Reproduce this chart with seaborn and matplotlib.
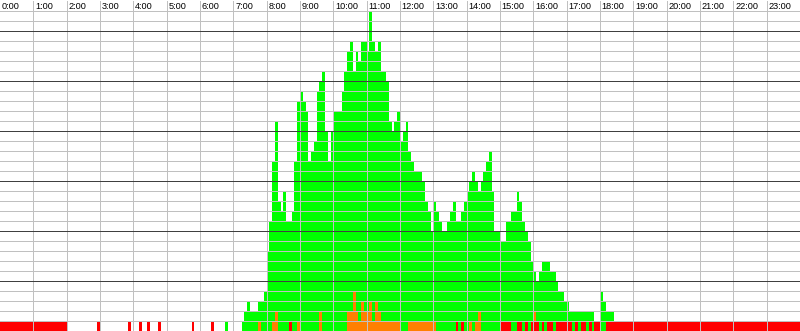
import numpy as np
import pandas as pd
import matplotlib
matplotlib.use("Agg")
import matplotlib.pyplot as plt
import seaborn as sns

# 5-minute bins, 12 per hour, 0:00 .. 23:55
bin_minutes = 5

hour_labels = ["0:00", "1:00", "2:00", "3:00", "4:00", "5:00", "6:00", "7:00",
               "8:00", "9:00", "10:00", "11:00", "12:00", "13:00", "14:00", "15:00",
               "16:00", "17:00", "18:00", "19:00", "20:00", "21:00", "22:00", "23:00"]

# total count per bin (all statuses)
total_hosts = (
    [1, 1, 1, 1, 1, 1, 1, 1, 1, 1, 1, 1] +            # 0h
    [1, 1, 1, 1, 1, 1, 1, 1, 1, 1, 1, 1] +            # 1h
    [0, 0, 0, 0, 0, 0, 0, 0, 0, 0, 0, 1] +            # 2h
    [0, 0, 0, 0, 0, 0, 0, 0, 0, 0, 1, 0] +            # 3h
    [0, 0, 1, 0, 0, 1, 0, 0, 0, 1, 0, 0] +            # 4h
    [0, 0, 0, 0, 0, 0, 0, 0, 0, 1, 0, 0] +            # 5h
    [0, 0, 0, 0, 1, 0, 0, 0, 0, 1, 0, 0] +            # 6h
    [0, 0, 0, 1, 2, 3, 2, 2, 2, 3, 3, 4] +            # 7h
    [8, 11, 17, 21, 13, 12, 14, 11, 11, 12, 17, 23] +  # 8h
    [24, 23, 22, 17, 18, 19, 24, 25, 26, 20, 17, 20] + # 9h
    [22, 22, 22, 24, 26, 28, 29, 26, 28, 27, 29, 29] + # 10h
    [28, 32, 29, 28, 29, 26, 26, 25, 21, 20, 21, 22] + # 11h
    [19, 20, 21, 18, 17, 16, 16, 16, 15, 13, 12, 10] + # 12h
    [13, 12, 11, 10, 10, 11, 12, 13, 11, 11, 12, 13] + # 13h
    [14, 15, 16, 15, 14, 15, 16, 17, 18, 14, 10, 10] + # 14h
    [9, 9, 11, 11, 12, 12, 14, 13, 11, 10, 9, 7] +     # 15h
    [6, 5, 6, 7, 7, 7, 6, 6, 5, 4, 4, 3] +             # 16h
    [3, 2, 2, 2, 2, 2, 2, 2, 2, 2, 1, 1] +             # 17h
    [4, 3, 2, 2, 2, 1, 1, 1, 1, 1, 1, 1] +             # 18h
    [1, 1, 1, 1, 1, 1, 1, 1, 1, 1, 1, 1] +            # 19h
    [1, 1, 1, 1, 1, 1, 1, 1, 1, 1, 1, 1] +            # 20h
    [1, 1, 1, 1, 1, 1, 1, 1, 1, 1, 1, 1] +            # 21h
    [1, 1, 1, 1, 1, 1, 1, 1, 1, 1, 1, 1] +            # 22h
    [1, 1, 1, 1, 1, 1, 1, 1, 1, 1, 1, 1]              # 23h
)

orange_hosts = (
    [0] * 12 * 7 +
    [0, 0, 0, 0, 0, 0, 0, 0, 0, 1, 0, 0] +            # 7h
    [0, 0, 1, 2, 0, 0, 0, 0, 0, 0, 0, 1] +            # 8h
    [0, 0, 0, 0, 0, 0, 0, 2, 0, 0, 0, 0] +            # 9h
    [0, 0, 0, 0, 0, 2, 2, 4, 2, 1, 3, 2] +            # 10h
    [2, 3, 1, 3, 2, 1, 1, 1, 1, 1, 1, 1] +            # 11h
    [0, 0, 0, 1, 1, 1, 1, 1, 1, 1, 1, 1] +            # 12h
    [1, 0, 0, 0, 0, 0, 0, 0, 0, 0, 0, 0] +            # 13h
    [0, 1, 0, 1, 2, 0, 0, 0, 0, 0, 0, 0] +            # 14h
    [0, 0, 0, 0, 0, 0, 0, 0, 0, 0, 0, 0] +            # 15h
    [1, 0, 0, 0, 0, 0, 0, 0, 0, 0, 0, 0] +            # 16h
    [0] * 12 * 7
)

red_hosts = (
    [1, 1, 1, 1, 1, 1, 1, 1, 1, 1, 1, 1] +            # 0h
    [1, 1, 1, 1, 1, 1, 1, 1, 1, 1, 1, 1] +            # 1h
    [0, 0, 0, 0, 0, 0, 0, 0, 0, 0, 0, 1] +            # 2h
    [0, 0, 0, 0, 0, 0, 0, 0, 0, 0, 1, 0] +            # 3h
    [0, 0, 1, 0, 0, 1, 0, 0, 0, 1, 0, 0] +            # 4h
    [0, 0, 0, 0, 0, 0, 0, 0, 0, 1, 0, 0] +            # 5h
    [0, 0, 0, 0, 1, 0, 0, 0, 0, 0, 0, 0] +            # 6h
    [0, 0, 0, 0, 0, 0, 0, 0, 0, 0, 0, 0] +            # 7h
    [0, 0, 0, 0, 0, 0, 0, 0, 1, 0, 0, 0] +            # 8h
    [0] * 12 * 4 +                                     # 9h-12h
    [0, 0, 0, 0, 0, 0, 0, 0, 1, 0, 1, 0] +            # 13h
    [0, 0, 0, 0, 0, 0, 0, 0, 0, 0, 0, 0] +            # 14h
    [1, 1, 1, 1, 0, 0, 1, 1, 0, 1, 0, 1] +            # 15h
    [1, 1, 0, 1, 0, 1, 1, 0, 1, 1, 1, 1] +            # 16h
    [1, 1, 0, 1, 0, 1, 1, 0, 1, 0, 1, 1] +            # 17h
    [0, 0, 1, 1, 1, 1, 1, 1, 1, 1, 1, 1] +            # 18h
    [1] * 12 * 5                                       # 19h-23h
)

status_colors = {"green": "#00ff00", "orange": "#ff8000", "red": "#ff0000"}

# ---- table for seaborn ----
n_bins = len(total_hosts)
t_mid = (np.arange(n_bins) + 0.5) * bin_minutes / 60.0
tot = np.array(total_hosts)
ora = np.array(orange_hosts)
red = np.array(red_hosts)
grn = tot - ora - red
df = pd.concat([
    pd.DataFrame({"t": t_mid, "n": grn, "status": "green"}),
    pd.DataFrame({"t": t_mid, "n": ora, "status": "orange"}),
    pd.DataFrame({"t": t_mid, "n": red, "status": "red"}),
], ignore_index=True)

sns.set_style("white")
plt.rcParams["font.family"] = ["Liberation Sans", "DejaVu Sans"]

fig = plt.figure(figsize=(8.0, 3.31), dpi=100)
fig.patch.set_facecolor("white")
ax = fig.add_axes([0, 0.5 / 331, 1, 330 / 331])

sns.histplot(data=df, x="t", weights="n", hue="status",
             hue_order=["green", "orange", "red"], palette=status_colors,
             multiple="stack", binwidth=bin_minutes / 60.0, binrange=(0, 24),
             element="bars", fill=True,
             alpha=1, linewidth=0, antialiased=False, legend=False, ax=ax)

ax.set_xlim(0, 24)
ax.set_ylim(0, 33)
ax.set_axis_off()

lw = 72 / 100.0
for h in range(1, 24):
    ax.axvline(h, color="#c0c0c0", lw=lw, zorder=5, antialiased=False)
for v in range(0, 33):
    if v % 5 == 0:
        ax.axhline(v, color="#404040", lw=lw, zorder=6, antialiased=False)
    else:
        ax.axhline(v, color="#c0c0c0", lw=lw, zorder=5, antialiased=False)

for h, lab in enumerate(hour_labels):
    ax.text(h + 0.055, 32.12, lab, fontsize=6.6, ha="left", va="baseline",
            color="black", zorder=7)

fig.savefig("out.png", dpi=100, facecolor="white")
